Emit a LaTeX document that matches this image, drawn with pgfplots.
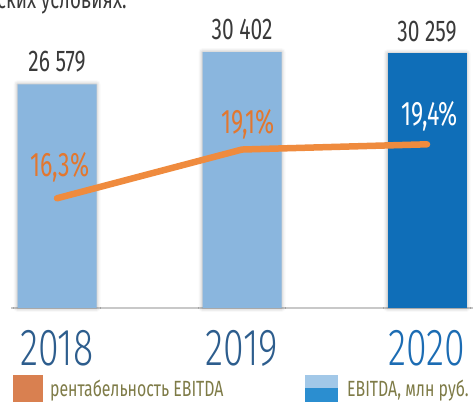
\documentclass[border=0pt]{standalone}
\usepackage{fontspec}
\setmainfont{Fira Sans}[FakeStretch=0.72]
\newfontfamily\yearfont{Fira Sans Light}[FakeStretch=0.72]
\newfontfamily\numfont{Fira Sans}[FakeStretch=0.70]
\newfontfamily\pctfont{Fira Sans}[FakeStretch=0.68]
\usepackage{pgfplots}
\pgfplotsset{compat=1.18}
\usetikzlibrary{shadows.blur}
\definecolor{lightbar}{HTML}{8AB6DE}
\definecolor{darkbar}{HTML}{0F6EB8}
\definecolor{lineor}{HTML}{EF8B3E}
\definecolor{txtor}{HTML}{E2772F}
\definecolor{yeartxt}{HTML}{2D5D8D}
\definecolor{yeartxtb}{HTML}{1C6CB3}
\definecolor{legor}{HTML}{D98050}
\definecolor{legtxt}{HTML}{7E7B47}
\definecolor{legbt}{HTML}{A2C8E8}
\definecolor{legbb}{HTML}{2B8ED0}
\definecolor{basegray}{HTML}{C8C8C8}
\definecolor{numtxt}{HTML}{3A3A3A}
\begin{document}
\begin{tikzpicture}[x=1pt,y=1pt]
\useasboundingbox (0,0) rectangle (473,403);
% cut-off text at top
\node[anchor=base west, inner sep=0pt, text=numtxt, font=\fontsize{26}{28}\selectfont] at (-3,394) {ских условиях.};
\begin{axis}[
  at={(10.75pt,95pt)}, anchor=south west,
  scale only axis, width=462.5pt, height=303pt,
  xmin=-0.25, xmax=2.25, ymin=0, ymax=36000,
  axis x line=bottom, axis y line=none,
  axis line style={basegray, line width=1.6pt, -},
  xtick={0,1,2}, xtick style={draw=none},
  xticklabels={\textcolor{yeartxt}{2018},\textcolor{yeartxt}{2019},\textcolor{yeartxtb}{2020}},
  xticklabel style={anchor=base, yshift=-55pt, font=\yearfont\fontsize{52}{54}\selectfont, inner sep=0pt},
  ytick=\empty,
  clip=false,
]
\addplot[ybar, bar width=79pt, fill=lightbar, draw=none,
  blur shadow={shadow xshift=0pt, shadow yshift=0pt, shadow blur radius=4pt, shadow opacity=35}]
  coordinates {(0,26579) (1,30402)};
\addplot[ybar, bar width=79pt, fill=darkbar, draw=none,
  blur shadow={shadow xshift=0pt, shadow yshift=0pt, shadow blur radius=4pt, shadow opacity=35}]
  coordinates {(2,30259)};
\node[anchor=base, text=numtxt, inner sep=0pt, font=\numfont\fontsize{30}{31}\selectfont] at (axis cs:0,26579) [yshift=13pt] {26 579};
\node[anchor=base, text=numtxt, inner sep=0pt, font=\numfont\fontsize{30}{31}\selectfont] at (axis cs:1,30402) [yshift=13pt] {30 402};
\node[anchor=base, text=numtxt, inner sep=0pt, font=\numfont\fontsize{30}{31}\selectfont] at (axis cs:2,30259) [yshift=12pt] {30 259};
\end{axis}
\begin{axis}[
  at={(10.75pt,95pt)}, anchor=south west,
  scale only axis, width=462.5pt, height=303pt,
  xmin=-0.25, xmax=2.25, ymin=10, ymax=27.4,
  axis lines=none, xtick=\empty, ytick=\empty, clip=false,
]
\addplot[lineor, line width=6.5pt, line cap=round, line join=round] coordinates {(0,16.3) (1,19.1) (2,19.4)};
\node[anchor=base, text=txtor, inner sep=0pt, font=\pctfont\fontsize{34}{35}\selectfont] at (axis cs:0,16.3) [xshift=3pt, yshift=22pt] {16,3\%};
\node[anchor=base, text=txtor, inner sep=0pt, font=\pctfont\fontsize{34}{35}\selectfont] at (axis cs:1,19.1) [xshift=6pt, yshift=16pt] {19,1\%};
\node[anchor=base, text=white, inner sep=0pt, font=\pctfont\fontsize{34}{35}\selectfont] at (axis cs:2,19.4) [xshift=3pt, yshift=19pt] {19,4\%};
\end{axis}
% legend
\fill[legor] (13,1) rectangle (43,28);
\node[anchor=base west, inner sep=0pt, text=legtxt, font=\fontsize{22}{24}\selectfont] at (50,6) {рентабельность EBITDA};
\fill[legbt] (305,14.5) rectangle (338,28);
\fill[legbb] (305,1) rectangle (338,14.5);
\node[anchor=base west, inner sep=0pt, text=legtxt, font=\fontsize{22}{24}\selectfont] at (347,6) {EBITDA, млн руб.};
\end{tikzpicture}
\end{document}
